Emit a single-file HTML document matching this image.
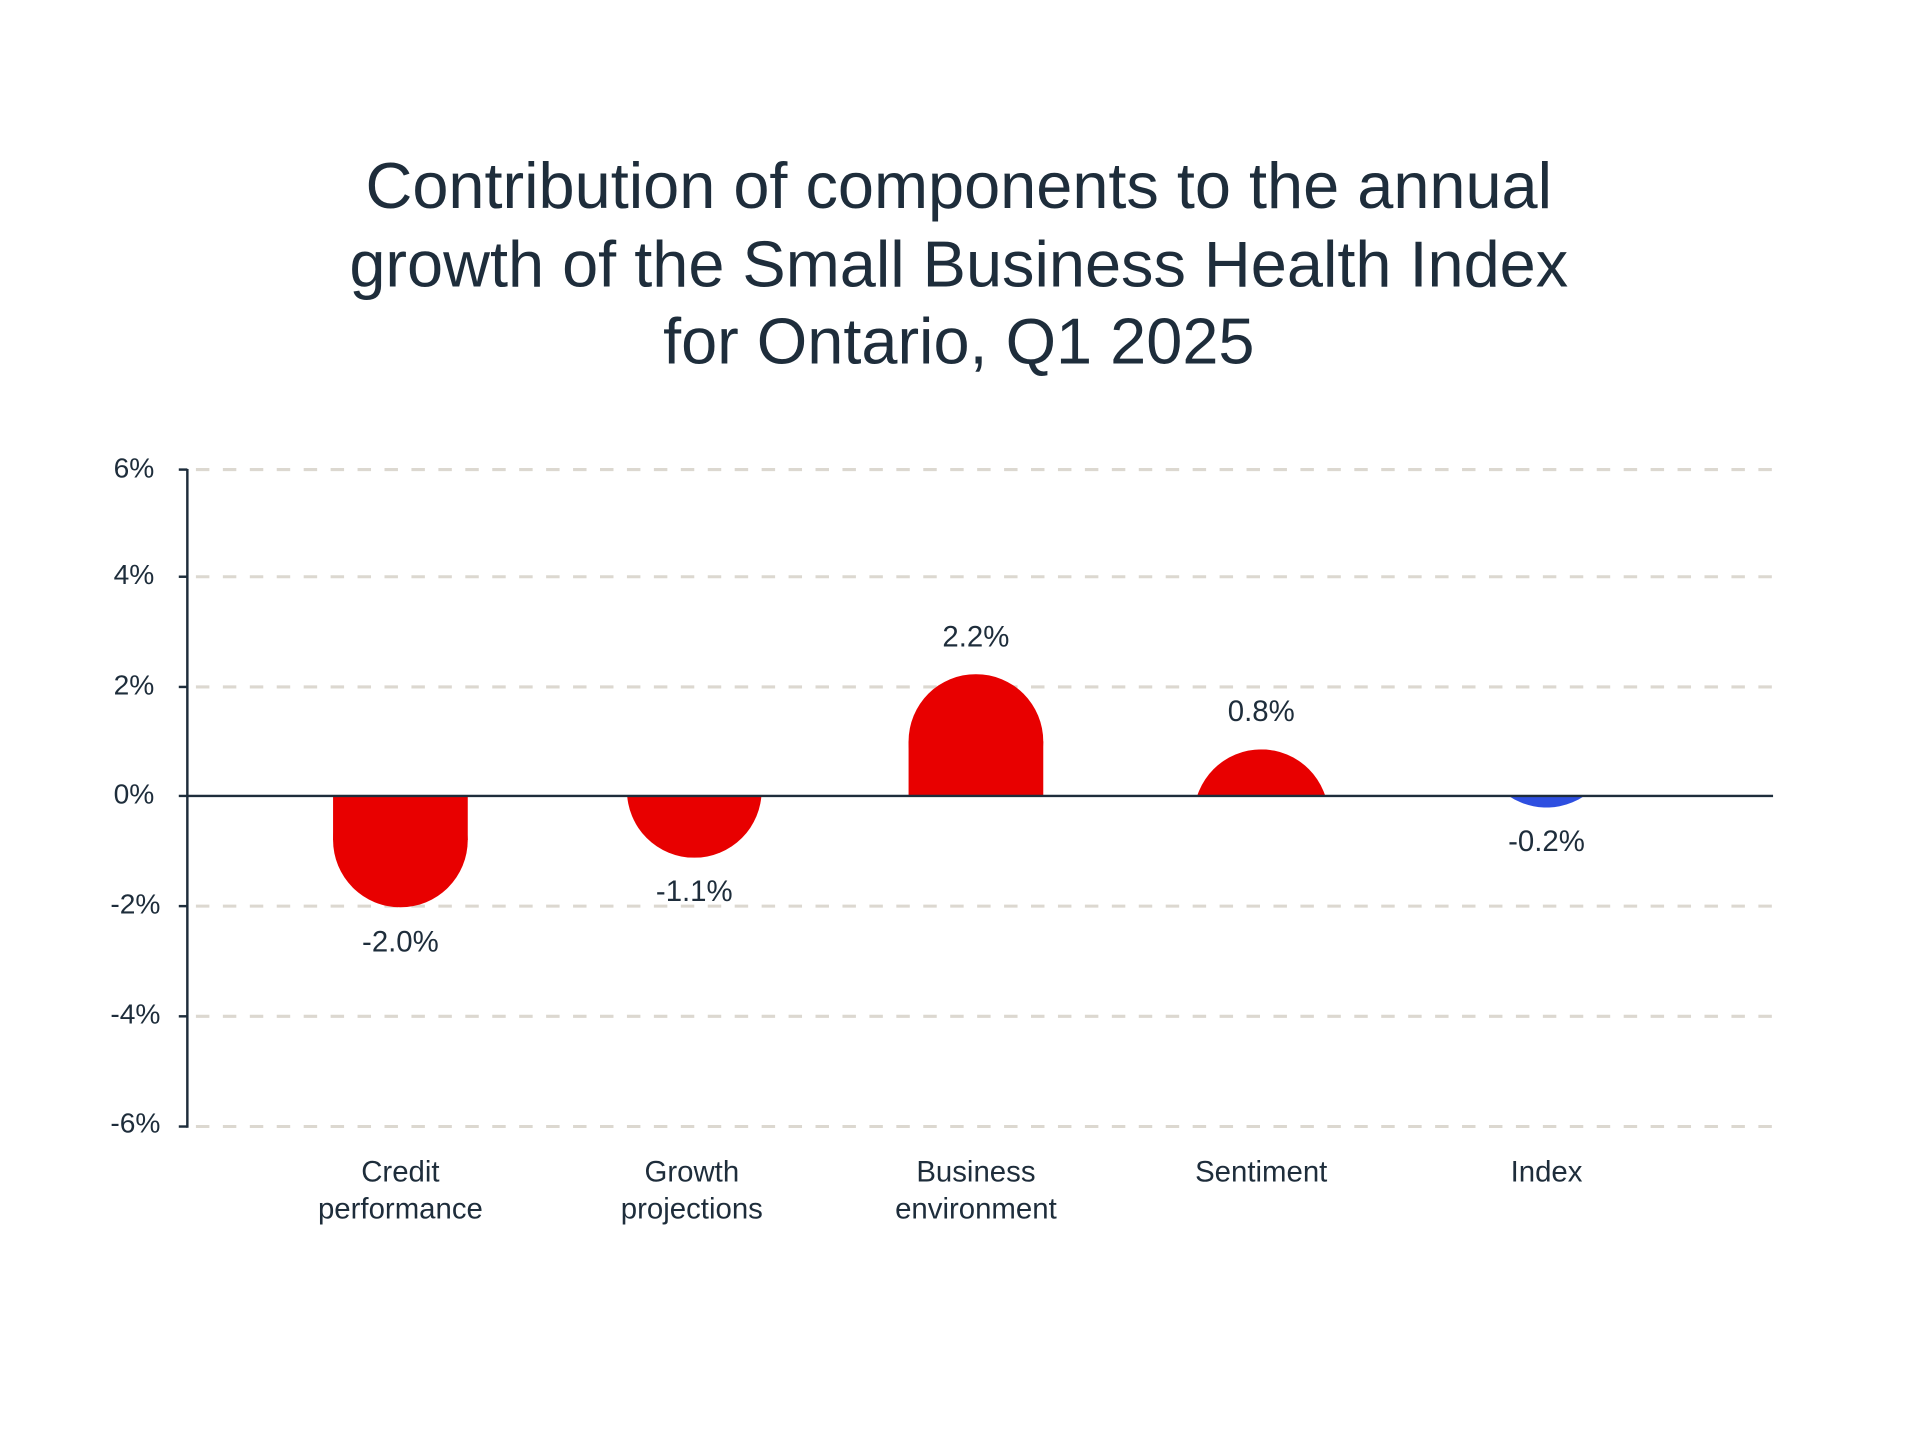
<!DOCTYPE html>
<html><head><meta charset="utf-8"><style>html,body{margin:0;padding:0;background:#fff}svg{display:block}</style></head>
<body>
<svg width="1920" height="1440" viewBox="0 0 1568 1176" xmlns="http://www.w3.org/2000/svg" font-family="Liberation Sans, sans-serif" fill="#1e2d3b">
<defs>
<clipPath id="c1"><rect x="200" y="650" width="200" height="91"/></clipPath>
<clipPath id="c2"><rect x="440" y="650" width="200" height="50.5"/></clipPath>
<clipPath id="c3"><rect x="700" y="550.5" width="200" height="99.5"/></clipPath>
<clipPath id="c4"><rect x="930" y="612" width="200" height="38"/></clipPath>
<clipPath id="c5"><rect x="1160" y="650" width="200" height="9.5"/></clipPath>
</defs>
<g text-anchor="middle" font-size="53">
<text x="783" y="170">Contribution of components to the annual</text>
<text x="783" y="234">growth of the Small Business Health Index</text>
<text x="783" y="297">for Ontario, Q1 2025</text>
</g>
<g stroke="#dcd8d0" stroke-width="2.5" stroke-dasharray="11,11">
<line x1="160" y1="383.5" x2="1448" y2="383.5"/>
<line x1="160" y1="471" x2="1448" y2="471"/>
<line x1="160" y1="561" x2="1448" y2="561"/>
<line x1="160" y1="740" x2="1448" y2="740"/>
<line x1="160" y1="830" x2="1448" y2="830"/>
<line x1="160" y1="920" x2="1448" y2="920"/>
</g>
<g fill="#e80000">
<g clip-path="url(#c1)"><rect x="272" y="640" width="110" height="46"/><circle cx="327" cy="686" r="55"/></g>
<g clip-path="url(#c2)"><rect x="512" y="640" width="110" height="6"/><circle cx="567" cy="645.5" r="55"/></g>
<g clip-path="url(#c3)"><rect x="742" y="605.5" width="110" height="50"/><circle cx="797" cy="605.5" r="55"/></g>
<g clip-path="url(#c4)"><circle cx="1030" cy="667" r="55"/></g>
</g>
<g clip-path="url(#c5)" fill="#2e4fe0"><circle cx="1263" cy="604.5" r="55"/></g>
<g stroke="#1e2d3b" stroke-width="2">
<line x1="153" y1="383" x2="153" y2="921"/>
<line x1="146" y1="650" x2="1448" y2="650"/>
<line x1="146" y1="383.5" x2="153" y2="383.5"/>
<line x1="146" y1="471" x2="153" y2="471"/>
<line x1="146" y1="561" x2="153" y2="561"/>
<line x1="146" y1="740" x2="153" y2="740"/>
<line x1="146" y1="830" x2="153" y2="830"/>
<line x1="146" y1="920" x2="153" y2="920"/>
</g>
<g text-anchor="end" font-size="23">
<text x="126" y="390">6%</text>
<text x="126" y="477">4%</text>
<text x="126" y="567">2%</text>
<text x="126" y="656">0%</text>
<text x="131" y="746">-2%</text>
<text x="131" y="836">-4%</text>
<text x="131" y="925">-6%</text>
</g>
<g text-anchor="middle" font-size="24">
<text x="327" y="777">-2.0%</text>
<text x="567" y="736">-1.1%</text>
<text x="797" y="528">2.2%</text>
<text x="1030" y="589">0.8%</text>
<text x="1263" y="695">-0.2%</text>
<text x="327" y="965">Credit</text><text x="327" y="995">performance</text>
<text x="565" y="965">Growth</text><text x="565" y="995">projections</text>
<text x="797" y="965">Business</text><text x="797" y="995">environment</text>
<text x="1030" y="965">Sentiment</text>
<text x="1263" y="965">Index</text>
</g>
</svg>
</body></html>
